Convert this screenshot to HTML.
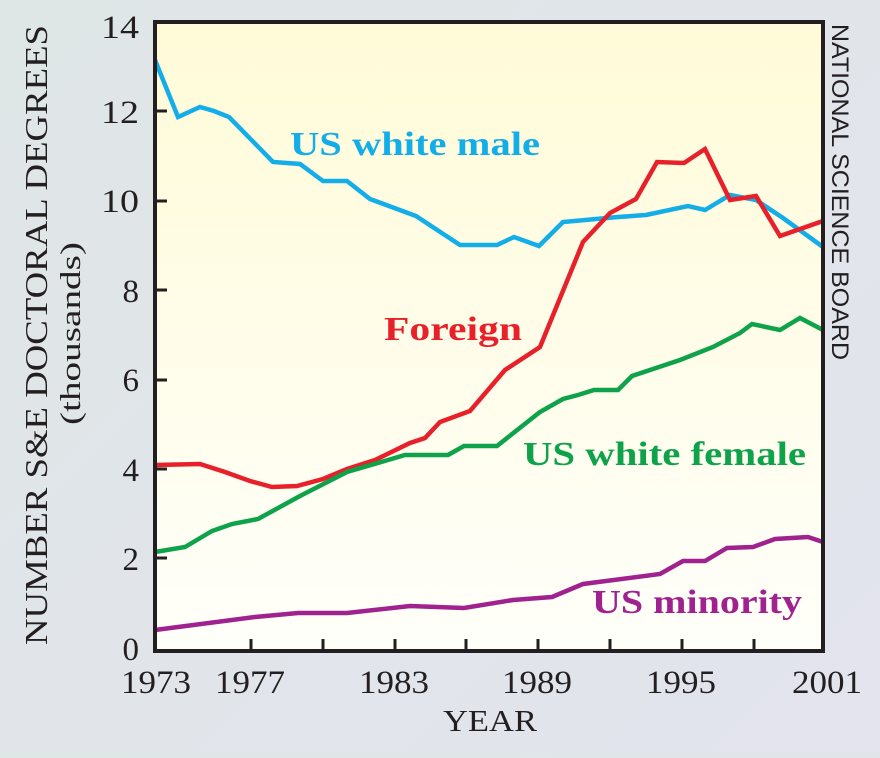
<!DOCTYPE html>
<html><head><style>
body{margin:0;width:880px;height:753px;overflow:hidden;background:linear-gradient(135deg,#dfe6e6,#e3e4ee);}
</style></head><body>
<svg width="880" height="753" xmlns="http://www.w3.org/2000/svg">
<defs><linearGradient id="pg" x1="0" y1="0" x2="0" y2="1"><stop offset="0" stop-color="#fffbd8"/><stop offset="1" stop-color="#fffffa"/></linearGradient></defs>
<rect x="155" y="22" width="668" height="629" fill="url(#pg)"/>
<g fill="none" stroke-width="4.5" stroke-linejoin="miter">
<polyline stroke="#13aee8" points="155,60 178,117 200,107 214,111 229,117 273,162 300,164 323,181 347,181 370,199 416,216 460,245 497,245 514,237 539,246 563,222 618,217 646,215 688,206 705,210 730,195 756,200 783,218 823,247"/>
<polyline stroke="#e8202a" points="155,465 200,464 225,472 250,481 272,487 297,486 323,479 347,469 375,460 410,443 425,438 440,422 470,411 505,370 540,347 583,242 610,213 636,199 657,162 684,163 705,149 730,200 756,196 780,236 823,221"/>
<polyline stroke="#0ea24a" points="155,552 185,547 212,531 232,524 258,519 300,496 347,472 405,455 448,455 464,446 497,446 540,412 563,399 578,395 594,390 618,390 632,376 680,360 713,347 740,333 752,324 780,330 800,318 823,330"/>
<polyline stroke="#a0228e" points="155,630 255,617 298,613 347,613 410,606 464,608 513,600 552,597 583,584 660,574 683,561 705,561 727,548 753,547 775,539 808,537 823,542"/>
</g>
<rect x="155" y="22" width="668" height="629" fill="none" stroke="#231f20" stroke-width="4"/>
<g stroke="#231f20" stroke-width="3">
<line x1="155" y1="558" x2="167" y2="558"/><line x1="155" y1="469" x2="167" y2="469"/><line x1="155" y1="380" x2="167" y2="380"/><line x1="155" y1="290" x2="167" y2="290"/><line x1="155" y1="201" x2="167" y2="201"/><line x1="155" y1="111" x2="167" y2="111"/>
<line x1="251" y1="651" x2="251" y2="639"/><line x1="323" y1="651" x2="323" y2="639"/><line x1="395" y1="651" x2="395" y2="639"/><line x1="466" y1="651" x2="466" y2="639"/><line x1="538" y1="651" x2="538" y2="639"/><line x1="610" y1="651" x2="610" y2="639"/><line x1="682" y1="651" x2="682" y2="639"/><line x1="754" y1="651" x2="754" y2="639"/>
</g>
<g font-family="Liberation Serif, serif" font-size="33" fill="#231f20">
<g text-anchor="end"><text x="139" y="660">0</text><text x="139" y="570">2</text><text x="139" y="481">4</text><text x="139" y="391">6</text><text x="139" y="302">8</text><text x="139" y="212" textLength="38" lengthAdjust="spacingAndGlyphs">10</text><text x="139" y="123" textLength="38" lengthAdjust="spacingAndGlyphs">12</text><text x="139" y="38" textLength="38" lengthAdjust="spacingAndGlyphs">14</text></g>
<text x="121" y="693" textLength="70" lengthAdjust="spacingAndGlyphs">1973</text>
<text x="215" y="693" textLength="70" lengthAdjust="spacingAndGlyphs">1977</text>
<text x="359" y="693" textLength="70" lengthAdjust="spacingAndGlyphs">1983</text>
<text x="502" y="693" textLength="70" lengthAdjust="spacingAndGlyphs">1989</text>
<text x="646" y="693" textLength="70" lengthAdjust="spacingAndGlyphs">1995</text>
<text x="792" y="693" textLength="70" lengthAdjust="spacingAndGlyphs">2001</text>
<text x="443" y="731" font-size="31" textLength="94" lengthAdjust="spacingAndGlyphs">YEAR</text>
<text transform="translate(47,645) rotate(-90)" font-size="32" textLength="620" lengthAdjust="spacingAndGlyphs">NUMBER S&amp;E DOCTORAL DEGREES</text>
<text transform="translate(80,425) rotate(-90)" font-size="29" textLength="183" lengthAdjust="spacingAndGlyphs">(thousands)</text>
</g>
<text transform="translate(832,24) rotate(90)" font-family="Liberation Sans, sans-serif" font-size="24" fill="#231f20" textLength="336" lengthAdjust="spacingAndGlyphs">NATIONAL SCIENCE BOARD</text>
<g font-family="Liberation Serif, serif" font-weight="bold" font-size="34">
<text x="290" y="155" fill="#13aee8" textLength="250" lengthAdjust="spacingAndGlyphs">US white male</text>
<text x="384" y="340" fill="#e8202a" textLength="138" lengthAdjust="spacingAndGlyphs">Foreign</text>
<text x="523" y="465" fill="#0ea24a" textLength="283" lengthAdjust="spacingAndGlyphs">US white female</text>
<text x="592" y="613" fill="#a0228e" textLength="210" lengthAdjust="spacingAndGlyphs">US minority</text>
</g>
</svg>
</body></html>
